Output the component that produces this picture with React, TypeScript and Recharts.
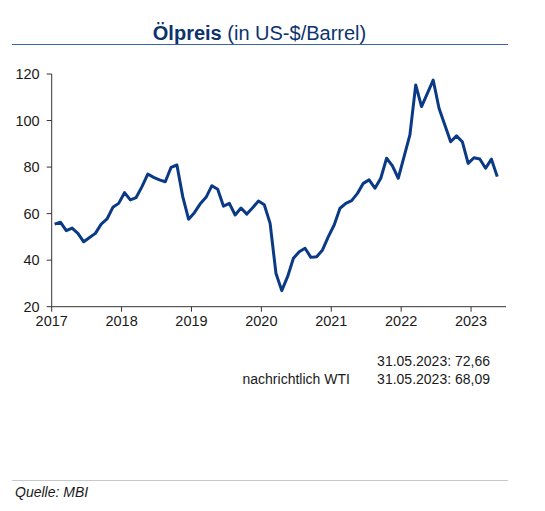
import React from 'react';
import { LineChart, Line, XAxis, YAxis } from 'recharts';

// Monthly oil price (Brent, US-$/Barrel)
const price2017 = [55.5, 56.3, 52.7, 53.8, 51.5, 47.9, 49.7, 51.5, 55.5, 57.7, 62.7, 64.4];
const price2018 = [69.0, 65.9, 66.9, 71.6, 77.0, 75.6, 74.5, 73.7, 79.9, 80.9, 67.3, 57.6];
const price2019 = [60.4, 64.2, 67.0, 72.0, 70.5, 63.2, 64.4, 59.4, 62.4, 59.8, 62.5, 65.4];
const price2020 = [63.8, 55.8, 34.4, 26.9, 32.9, 40.8, 43.6, 45.1, 41.2, 41.5, 44.4, 50.1];
const price2021 = [55.1, 62.3, 64.4, 65.6, 68.7, 73.0, 74.5, 70.9, 75.2, 83.8, 80.5, 75.2];
const price2022 = [84.5, 93.8, 115.3, 106.0, 111.7, 117.4, 105.3, 98.1, 90.9, 93.4, 90.9, 81.6];
const price2023 = [84.0, 83.5, 79.5, 83.4, 75.9];

const yearLabels = ['2017', '2018', '2019', '2020', '2021', '2022', '2023'];
const yTicks = [20, 40, 60, 80, 100, 120];

const allPrices = [
  ...price2017,
  ...price2018,
  ...price2019,
  ...price2020,
  ...price2021,
  ...price2022,
  ...price2023,
];

// x = months since Jan 2017, placed at mid-month
const data = allPrices.map((v, i) => ({ x: i + 0.5, price: v }));
const xTicks = yearLabels.map((_, i) => i * 12);

const FONT = '"Liberation Sans", Arial, sans-serif';
const TEXT = '#1a1a1a';

export default function App() {
  return (
    <div style={{ position: 'absolute', left: 0, top: 0, width: 545, height: 511, background: '#fff', fontFamily: FONT }}>
      <div
        style={{
          position: 'absolute',
          left: 0,
          width: 519,
          top: 21,
          textAlign: 'center',
          fontSize: 20,
          color: '#0c336f',
          lineHeight: '24px',
          whiteSpace: 'nowrap',
        }}
      >
        <span style={{ fontWeight: 'bold' }}>Ölpreis</span> (in US-$/Barrel)
      </div>
      <div style={{ position: 'absolute', left: 12, top: 43.5, width: 496, height: 1.5, background: '#3a64b0' }} />

      <div style={{ position: 'absolute', left: 0, top: 0 }}>
        <LineChart width={545} height={511} data={data} margin={{ top: 74, right: 39, bottom: 174.3, left: 6.7 }}>
          <XAxis
            type="number"
            dataKey="x"
            domain={[0, 78]}
            ticks={xTicks}
            tickFormatter={(v: number) => yearLabels[Math.round(v / 12)]}
            tickSize={5}
            tickMargin={4}
            height={30}
            stroke="#333"
            tick={{ fill: TEXT, fontSize: 14.5, fontFamily: FONT }}
            interval={0}
          />
          <YAxis
            type="number"
            domain={[20, 120]}
            ticks={yTicks}
            width={45}
            tickSize={5}
            tickMargin={7}
            stroke="#333"
            tick={{ fill: TEXT, fontSize: 14.5, fontFamily: FONT }}
            interval={0}
          />
          <Line
            type="linear"
            dataKey="price"
            stroke="#0a3a86"
            strokeWidth={3}
            dot={false}
            isAnimationActive={false}
            strokeLinejoin="round"
          />
        </LineChart>
      </div>

      <div style={{ position: 'absolute', left: 300, width: 190, top: 352, textAlign: 'right', fontSize: 14, color: TEXT, lineHeight: '18px' }}>
        31.05.2023: 72,66
      </div>
      <div style={{ position: 'absolute', left: 242.5, top: 370, fontSize: 14, color: TEXT, lineHeight: '18px', whiteSpace: 'nowrap' }}>
        nachrichtlich WTI
      </div>
      <div style={{ position: 'absolute', left: 300, width: 190, top: 370, textAlign: 'right', fontSize: 14, color: TEXT, lineHeight: '18px' }}>
        31.05.2023: 68,09
      </div>

      <div style={{ position: 'absolute', left: 12, top: 480, width: 496, height: 1, background: '#c8c8c8' }} />
      <div style={{ position: 'absolute', left: 15, top: 483, fontSize: 14, fontStyle: 'italic', color: TEXT, lineHeight: '18px' }}>
        Quelle: MBI
      </div>
    </div>
  );
}
